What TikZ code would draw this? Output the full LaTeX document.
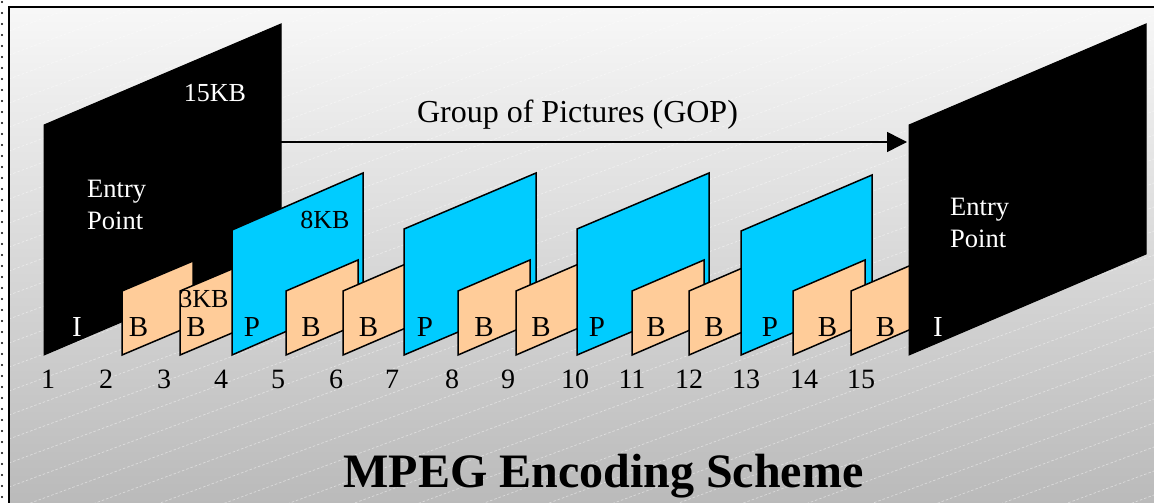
\documentclass[tikz,border=0pt]{standalone}
\usepackage{fontspec}
\setmainfont{Liberation Serif}
\usetikzlibrary{arrows.meta}
\definecolor{pcyan}{HTML}{00CCFF}
\definecolor{bpeach}{HTML}{FFCC99}
\tikzset{
  iframe/.style={fill=black, draw=black, line width=1pt},
  pframe/.style={fill=pcyan, draw=black, line width=1.5pt, line join=miter},
  bframe/.style={fill=bpeach, draw=black, line width=1.5pt, line join=miter},
  lbl/.style={anchor=base, inner sep=0pt, font=\fontsize{29}{32}\selectfont},
  num/.style={anchor=base, inner sep=0pt, font=\fontsize{28}{32}\selectfont},
  kb/.style={anchor=base, inner sep=0pt, font=\fontsize{26}{30}\selectfont},
  entry/.style={anchor=base west, inner sep=0pt, text=white, font=\fontsize{26.5}{32}\selectfont},
  gop/.style={line width=1.5pt, -{Triangle[length=20pt,width=20pt]}},
  hatch/.style={white, line width=0.7pt, dash pattern=on 2.5pt off 2pt, opacity=0.45},
}
\newcommand{\mpfr}[5]{% style, x, w, h, r
  \draw[#1] (#2,355) -- ({#2},{355-#4}) -- ({#2+#3},{355-#4-#5}) -- ({#2+#3},{355-#5}) -- cycle;}
\begin{document}
\begin{tikzpicture}[x=1pt,y=-1pt]
\useasboundingbox (0,0) rectangle (1154,503);
\fill[white] (0,0) rectangle (1154,503);
% background
\shade[shading angle=45, top color=white!97!black, bottom color=black!27] (9,7) rectangle (1154,503);
\begin{scope}
  \clip (9,7) rectangle (1154,503);
  \foreach \i in {0,...,40} \draw[hatch] (9,{7+24*\i}) -- ++(1145,-424);
\end{scope}
\draw[line width=1.3pt] (9,503) -- (9,7) -- (1154,7);
\foreach \j in {0,...,45} \fill (2,{2+11*\j}) circle (1.2pt);
% frames
\mpfr{iframe}{44}{237}{230}{101}
\mpfr{bframe}{122}{71}{64}{30}
\mpfr{bframe}{180}{71}{64}{30}
\mpfr{pframe}{232}{131}{125}{57}
\mpfr{bframe}{286}{72}{64}{31}
\mpfr{bframe}{343}{72}{64}{31}
\mpfr{pframe}{404}{132}{126}{56}
\mpfr{bframe}{458}{72}{64}{31}
\mpfr{bframe}{516}{72}{64}{31}
\mpfr{pframe}{577}{132}{126}{56}
\mpfr{bframe}{632}{72}{64}{31}
\mpfr{bframe}{689}{72}{64}{31}
\mpfr{pframe}{741}{131}{124}{56}
\mpfr{bframe}{793}{72}{64}{31}
\mpfr{bframe}{851}{72}{64}{31}
\mpfr{iframe}{909}{237}{230}{101}
% GOP arrow
\coordinate (gopS) at (281,142);
\coordinate (gopE) at (907,142);
\draw[gop] (gopS) -- (gopE);
\node[anchor=base, inner sep=0pt, font=\fontsize{32}{36}\selectfont] (goplbl) at (577.5,122) {Group of Pictures (GOP)};
% size labels
\node[kb, text=white] (kb15) at (215,101) {15KB};
\node[kb] (kb8) at (325,228) {8KB};
\node[kb] (kb3) at (204,307) {3KB};
% entry points
\node[entry] (entL1) at (87,197) {Entry};
\node[entry] (entL2) at (87,229) {Point};
\node[entry] (entR1) at (950,215) {Entry};
\node[entry] (entR2) at (950,247) {Point};
% frame type labels
\node[lbl, text=white] (t1) at (77,336) {I};
\node[lbl] (t2) at (138.5,336) {B};
\node[lbl] (t3) at (196,336) {B};
\node[lbl] (t4) at (252,336) {P};
\node[lbl] (t5) at (311,336) {B};
\node[lbl] (t6) at (368.5,336) {B};
\node[lbl] (t7) at (425,336) {P};
\node[lbl] (t8) at (484,336) {B};
\node[lbl] (t9) at (541,336) {B};
\node[lbl] (t10) at (597,336) {P};
\node[lbl] (t11) at (656,336) {B};
\node[lbl] (t12) at (714,336) {B};
\node[lbl] (t13) at (770,336) {P};
\node[lbl] (t14) at (827.5,336) {B};
\node[lbl] (t15) at (885.5,336) {B};
\node[lbl, text=white] (t16) at (938,336) {I};
% frame numbers
\node[num] (n1) at (48,388) {1};
\node[num] (n2) at (106,388) {2};
\node[num] (n3) at (164,388) {3};
\node[num] (n4) at (221,388) {4};
\node[num] (n5) at (278,388) {5};
\node[num] (n6) at (336,388) {6};
\node[num] (n7) at (392,388) {7};
\node[num] (n8) at (452,388) {8};
\node[num] (n9) at (508,388) {9};
\node[num] (n10) at (575,388) {10};
\node[num] (n11) at (632,388) {11};
\node[num] (n12) at (689,388) {12};
\node[num] (n13) at (746,388) {13};
\node[num] (n14) at (804,388) {14};
\node[num] (n15) at (861,388) {15};
% title
\node[anchor=base, inner sep=0pt, font=\fontsize{48}{56}\selectfont\bfseries] (title) at (603.5,487) {MPEG Encoding Scheme};
\end{tikzpicture}
\end{document}
